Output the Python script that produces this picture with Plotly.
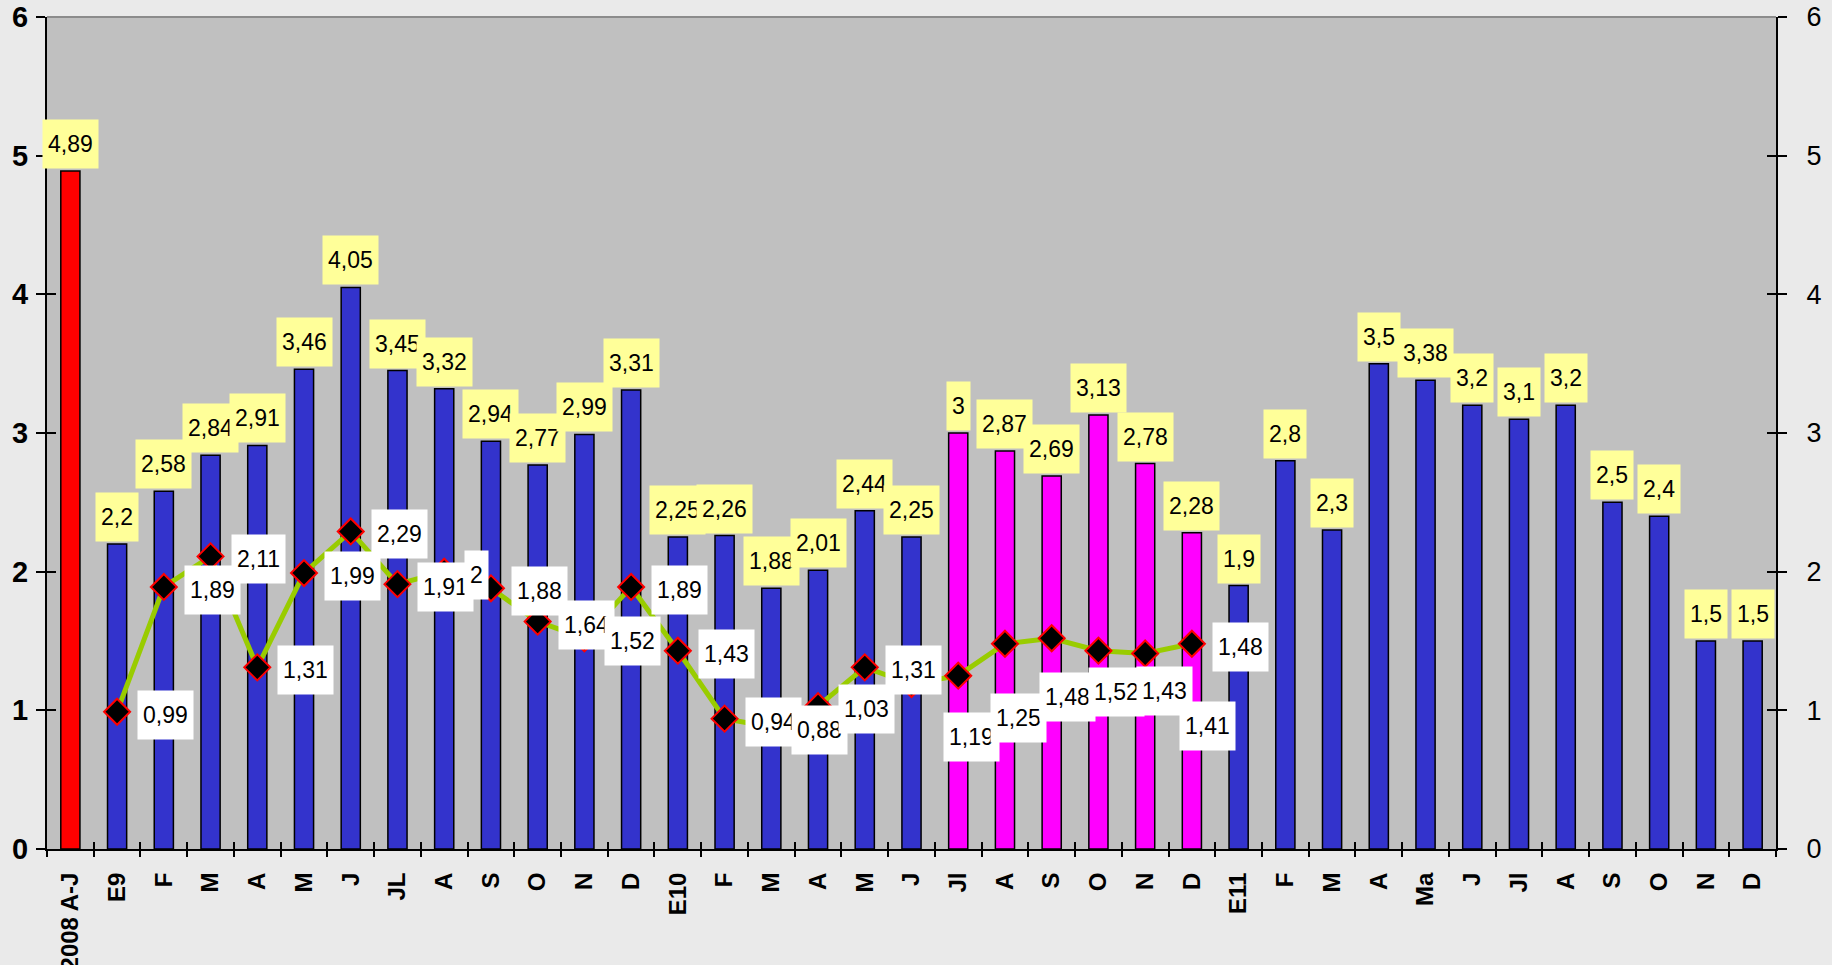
import plotly.graph_objects as go

# ---------------- data ----------------
categories = ["2008 A-J", "E9", "F", "M", "A", "M", "J", "JL", "A", "S", "O", "N", "D",
              "E10", "F", "M", "A", "M", "J", "Jl", "A", "S", "O", "N", "D",
              "E11", "F", "M", "A", "Ma", "J", "Jl", "A", "S", "O", "N", "D"]
bar_values = [4.89, 2.2, 2.58, 2.84, 2.91, 3.46, 4.05, 3.45, 3.32, 2.94, 2.77, 2.99, 3.31,
              2.25, 2.26, 1.88, 2.01, 2.44, 2.25, 3, 2.87, 2.69, 3.13, 2.78, 2.28,
              1.9, 2.8, 2.3, 3.5, 3.38, 3.2, 3.1, 3.2, 2.5, 2.4, 1.5, 1.5]
bar_groups = ["base"] + ["normal"] * 18 + ["highlight"] * 6 + ["normal"] * 12
line_start = 1  # line series begins at category "E9"
line_values = [0.99, 1.89, 2.11, 1.31, 1.99, 2.29, 1.91, 2, 1.88, 1.64, 1.52, 1.89,
               1.43, 0.94, 0.88, 1.03, 1.31, 1.19, 1.25, 1.48, 1.52, 1.43, 1.41, 1.48]
y_ticks = [0, 1, 2, 3, 4, 5, 6]

# ---------------- styles ----------------
group_colors = {"base": "#FF0000", "normal": "#3333CC", "highlight": "#FF00FF"}
# label placement for line points: None = right of marker, else (dx, dy) pixel offset of box centre
line_label_offsets = [None] * 17 + [(60, 53), (60, 42), (63, 53), (65, 54), (66, 40), (62, 73), None]

FONT = "Liberation Sans, Arial, sans-serif"


def fmt(v):
    return f"{v:g}".replace(".", ",")


n = len(categories)
xs = list(range(n))

fig = go.Figure()
fig.add_trace(go.Bar(
    x=xs, y=bar_values, width=0.41,
    marker=dict(color=[group_colors[g] for g in bar_groups],
                line=dict(color="#000000", width=1.5)),
    showlegend=False, hoverinfo="skip",
))
line_x = list(range(line_start, line_start + len(line_values)))
fig.add_trace(go.Scatter(
    x=line_x, y=line_values, mode="lines+markers", yaxis="y3",
    line=dict(color="#99CC00", width=5),
    marker=dict(symbol="diamond", size=20, color="#000000",
                line=dict(color="#FF0000", width=2)),
    showlegend=False, hoverinfo="skip",
))
# empty helper traces so the tick-only overlay axes are rendered
for xa, ya in (("x2", "y"), ("x3", "y"), ("x", "y2"), ("x", "y4")):
    fig.add_trace(go.Scatter(x=[], y=[], xaxis=xa, yaxis=ya, showlegend=False,
                             hoverinfo="skip"))

annotations = []
for i, v in enumerate(bar_values):
    annotations.append(dict(
        x=i, y=v, xref="x", yref="y", text=fmt(v), showarrow=False,
        xanchor="center", yanchor="bottom", yshift=2,
        bgcolor="#FFFF99", borderpad=5, height=38,
        font=dict(family=FONT, size=23, color="#000000"),
    ))
for x, v, off in zip(line_x, line_values, line_label_offsets):
    a = dict(x=x, y=v, xref="x", yref="y", text=fmt(v), showarrow=False,
             bgcolor="#FFFFFF", borderpad=5, height=38,
             font=dict(family=FONT, size=23, color="#000000"))
    if off is None:
        a.update(xanchor="left", xshift=20, yanchor="middle", yshift=-3)
    else:
        a.update(xanchor="center", xshift=off[0], yanchor="middle", yshift=-off[1])
    annotations.append(a)

boundaries = [i - 0.5 for i in range(n + 1)]
xrange = [-0.5, n - 0.5]

tick_only = dict(showticklabels=False, showgrid=False, zeroline=False, showline=False,
                 tickwidth=2, tickcolor="#000000", tickmode="array")

fig.update_layout(
    width=1832, height=965,
    margin=dict(l=47, r=56, t=17, b=116, autoexpand=False),
    paper_bgcolor="#EAEAEA", plot_bgcolor="#C0C0C0",
    annotations=annotations,
    shapes=[dict(type="line", xref="paper", yref="paper", x0=0, x1=1, y0=1, y1=1,
                 line=dict(color="#8C8C8C", width=2))],
    xaxis=dict(
        range=xrange, tickmode="array", tickvals=xs, ticktext=categories,
        tickangle=-90, ticks="outside", ticklen=8, tickcolor="rgba(0,0,0,0)",
        ticklabelstandoff=4,
        tickfont=dict(family=FONT, size=24, color="#000000", weight="bold"),
        showline=True, linecolor="#000000", linewidth=2, showgrid=False,
        zeroline=False, automargin=False, fixedrange=True,
    ),
    xaxis2=dict(range=xrange, overlaying="x", anchor="y", side="bottom",
                tickvals=boundaries, ticks="outside", ticklen=7, **tick_only),
    xaxis3=dict(range=xrange, overlaying="x", anchor="y", side="bottom",
                tickvals=boundaries, ticks="inside", ticklen=7, **tick_only),
    yaxis=dict(
        range=[0, 6], tickmode="array", tickvals=y_ticks, ticks="outside",
        ticklen=9, tickwidth=2, tickcolor="#000000", ticklabelstandoff=2,
        ticklabeloverflow="allow",
        tickfont=dict(family=FONT, size=29, color="#000000", weight="bold"),
        showline=True, linecolor="#000000", linewidth=2, showgrid=False,
        zeroline=False, automargin=False,
    ),
    yaxis2=dict(range=[0, 6], overlaying="y", anchor="x", side="left",
                tickvals=y_ticks, ticks="inside", ticklen=9, **tick_only),
    yaxis3=dict(
        range=[0, 6], overlaying="y", anchor="x", side="right",
        tickmode="array", tickvals=y_ticks, ticks="outside", ticklen=9,
        tickwidth=2, tickcolor="#000000", ticklabelstandoff=14,
        ticklabeloverflow="allow",
        tickfont=dict(family=FONT, size=27, color="#000000"),
        showline=True, linecolor="#000000", linewidth=2, showgrid=False,
        zeroline=False, automargin=False,
    ),
    yaxis4=dict(range=[0, 6], overlaying="y", anchor="x", side="right",
                tickvals=y_ticks, ticks="inside", ticklen=9, **tick_only),
)

fig.write_html(
    "out.html",
    config={"displayModeBar": False},
    post_script="document.body.style.margin='0';document.body.style.background='#EAEAEA';",
)
